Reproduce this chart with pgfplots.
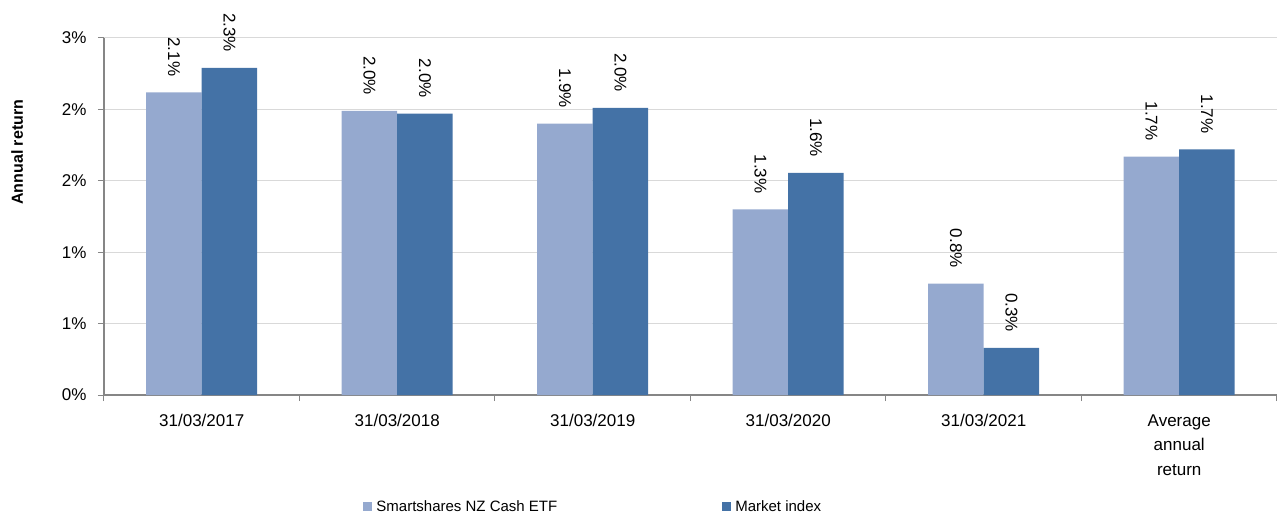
\documentclass[border=0pt]{standalone}
\usepackage{fontspec}
\setmainfont{Liberation Sans}
\usepackage{pgfplots}
\usepackage{pgfplotstable}
\pgfplotsset{compat=1.18}
\definecolor{cLight}{RGB}{149,169,207}
\definecolor{cDark}{RGB}{68,114,166}
\definecolor{gridc}{RGB}{217,217,217}
\definecolor{axc}{RGB}{134,134,134}

\pgfplotstableread{
x etf idx
0 2.12 2.29
1 1.99 1.97
2 1.90 2.01
3 1.30 1.555
4 0.78 0.33
5 1.67 1.72
}\datatable

\begin{document}
\begin{tikzpicture}
\begin{axis}[
  at={(0pt,0pt)}, anchor=south west,
  scale only axis,
  width=1173pt, height=357pt,
  xmin=-0.5, xmax=5.5,
  ymin=0, ymax=2.5,
  clip=false,
  ybar=0pt,
  bar width=55.5pt,
  axis x line*=bottom,
  axis y line*=left,
  axis line style={axc, line width=1.2pt, -},
  ytick={0,0.5,1,1.5,2,2.5},
  yticklabels={0\%,1\%,1\%,2\%,2\%,3\%},
  ymajorgrids,
  major grid style={gridc, line width=1pt},
  tick align=outside,
  major tick length=6pt,
  tick style={axc, line width=1pt},
  ytick style={axc, line width=1pt},
  yticklabel style={font=\fontsize{17}{17}\selectfont, xshift=-8pt},
  xtick={-0.5,0.5,1.5,2.5,3.5,4.5,5.5},
  xticklabels={},
  extra x ticks={0,1,2,3,4,5},
  extra x tick labels={31/03/2017,31/03/2018,31/03/2019,31/03/2020,31/03/2021,{Average\\annual\\return}},
  extra x tick style={tick style={draw=none}, grid=none},
  xticklabel style={font=\fontsize{17}{24.5}\selectfont, align=center, anchor=north, yshift=-10pt},
  ylabel={Annual return},
  ylabel style={at={(axis description cs:-0.074,0.68)}, anchor=center, font=\fontsize{16}{16}\selectfont\bfseries},
  /pgf/number format/assume math mode=true,
  nodes near coords={\pgfmathprintnumber[fixed,fixed zerofill,precision=1]{\pgfplotspointmeta}\%},
  every node near coord/.append style={font=\fontsize{17}{17}\selectfont, rotate=-90, anchor=east, inner sep=0pt, outer xsep=16pt, text=black},
  legend columns=2,
  legend style={at={(axis description cs:0.221,-0.313)}, anchor=west, draw=none, inner sep=0pt,
    font=\fontsize{15}{15}\selectfont,
    /tikz/every odd column/.append style={column sep=2pt},
    /tikz/every even column/.append style={column sep=163pt}},
  legend image code/.code={\fill[#1] (0pt,-4.5pt) rectangle (9pt,4.5pt);},
]
\addplot[fill=cLight, draw=none] table[x=x, y=etf] {\datatable};
\addplot[fill=cDark, draw=none] table[x=x, y=idx] {\datatable};
\legend{Smartshares NZ Cash ETF, Market index}
\end{axis}
\pgfresetboundingbox
\path[use as bounding box] (-104pt,-124pt) rectangle (1173pt,395pt);
\end{tikzpicture}
\end{document}
